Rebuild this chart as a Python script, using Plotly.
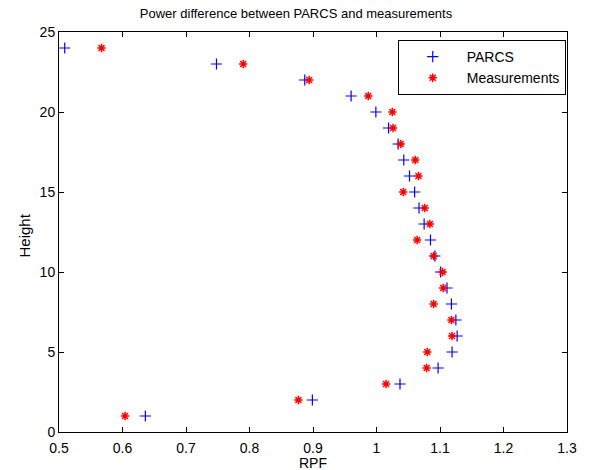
import plotly.graph_objects as go

height = [24, 23, 22, 21, 20, 19, 18, 17, 16, 15, 14, 13, 12, 11, 10, 9, 8, 7, 6, 5, 4, 3, 2, 1]
parcs = [0.509, 0.748, 0.887, 0.960, 0.999, 1.019, 1.034, 1.043, 1.052, 1.060, 1.067, 1.075, 1.085, 1.092,
         1.101, 1.111, 1.118, 1.125, 1.127, 1.119, 1.097, 1.037, 0.899, 0.636]
meas = [0.567, 0.790, 0.894, 0.987, 1.025, 1.026, 1.038, 1.061, 1.066, 1.042, 1.076, 1.084, 1.064, 1.090,
        1.104, 1.105, 1.090, 1.118, 1.119, 1.080, 1.079, 1.015, 0.877, 0.604]

x_ticks = [0.5, 0.6, 0.7, 0.8, 0.9, 1.0, 1.1, 1.2, 1.3]
y_ticks = [0, 5, 10, 15, 20, 25]

FONT = "Liberation Sans, Arial"

fig = go.Figure()
fig.add_trace(go.Scatter(x=parcs, y=height, mode="markers", name="PARCS",
                         marker=dict(symbol="cross-thin-open", size=8, color="blue",
                                     line=dict(width=1.2, color="blue"))))
fig.add_trace(go.Scatter(x=meas, y=height, mode="markers", name="Measurements",
                         marker=dict(symbol="asterisk-open", size=7, color="red",
                                     line=dict(width=1.5, color="red"))))

axis_common = dict(showline=True, linecolor="black", linewidth=1, mirror="ticks",
                   ticks="inside", ticklen=5, tickcolor="black", showgrid=False, zeroline=False,
                   automargin=False,
                   tickfont=dict(family=FONT, size=14, color="black"))

fig.update_layout(
    width=592, height=470,
    margin=dict(l=58.5, r=25, t=32, b=38),
    plot_bgcolor="white", paper_bgcolor="white",
    font=dict(family=FONT, size=14, color="black"),
    title=dict(text="Power difference between PARCS and measurements", x=0.5, xanchor="center",
               y=0.972, yanchor="middle", font=dict(family=FONT, size=13, color="black")),
    xaxis=dict(range=[0.5, 1.3], tickvals=x_ticks, ticktext=[f"{v:g}" for v in x_ticks],
               ticklabelstandoff=3, **axis_common),
    yaxis=dict(range=[0, 25], tickvals=y_ticks, **axis_common),
    legend=dict(x=0.9975, xanchor="right", y=0.98, yanchor="top", bordercolor="black", borderwidth=1,
                bgcolor="white", font=dict(family=FONT, size=14), tracegroupgap=0, itemwidth=58),
    showlegend=True,
    annotations=[
        dict(text="RPF", xref="paper", yref="paper", x=0.5, y=-0.077, xanchor="center", yanchor="middle",
             showarrow=False, font=dict(family=FONT, size=14, color="black")),
        dict(text="Height", xref="paper", yref="paper", x=-0.0698, y=0.49, xanchor="center",
             yanchor="middle", textangle=-90, showarrow=False,
             font=dict(family=FONT, size=15, color="black")),
    ],
)

fig.write_html("out.html")
